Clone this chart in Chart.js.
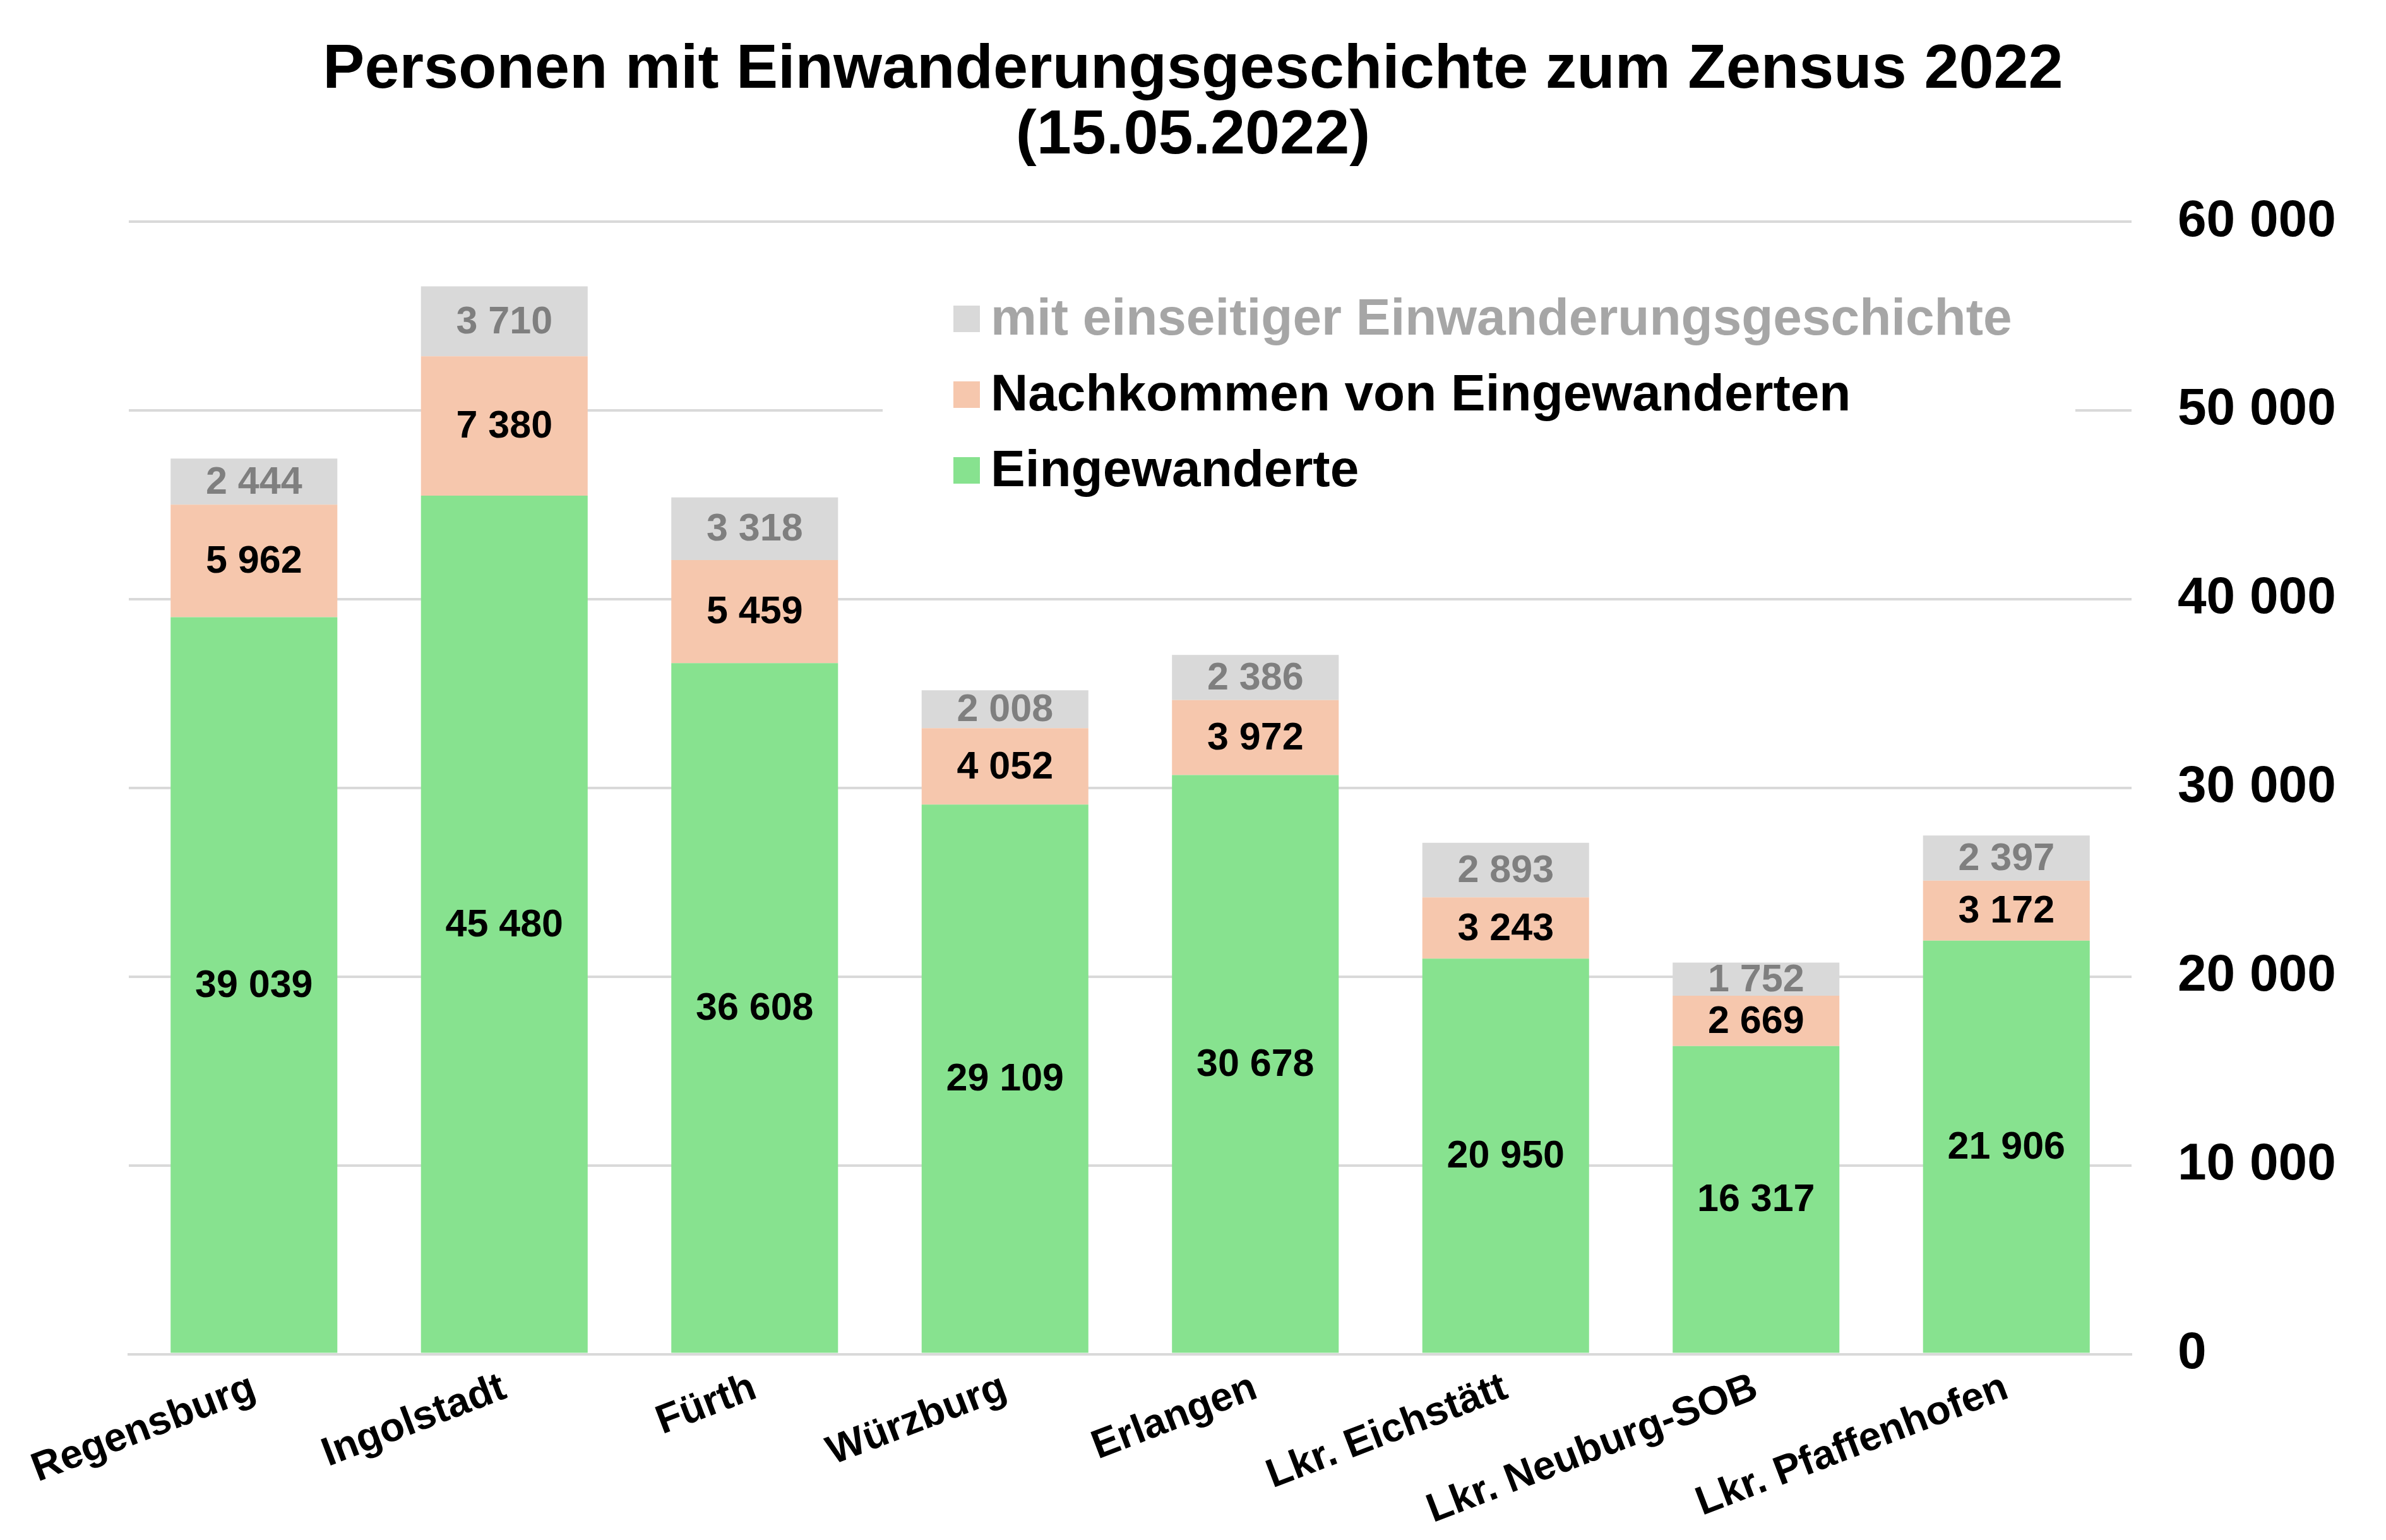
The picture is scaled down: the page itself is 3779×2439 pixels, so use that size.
<!DOCTYPE html>
<html>
<head>
<meta charset="utf-8">
<title>Personen mit Einwanderungsgeschichte zum Zensus 2022</title>
<script src="https://cdn.jsdelivr.net/npm/chart.js@4/dist/chart.umd.min.js"></script>
<style>
  html, body { margin: 0; padding: 0; background: #fff; }
  #wrap { width: 3779px; height: 2439px; position: relative; }
</style>
</head>
<body>
<div id="wrap"><canvas id="myChart"></canvas></div>
<script>
// data
const categories = ["Regensburg", "Ingolstadt", "Fürth", "Würzburg", "Erlangen", "Lkr. Eichstätt", "Lkr. Neuburg-SOB", "Lkr. Pfaffenhofen"];
const eingewanderte = [39039, 45480, 36608, 29109, 30678, 20950, 16317, 21906];
const nachkommen = [5962, 7380, 5459, 4052, 3972, 3243, 2669, 3172];
const einseitig = [2444, 3710, 3318, 2008, 2386, 2893, 1752, 2397];
const yTicks = [0, 10000, 20000, 30000, 40000, 50000, 60000];

const seriesNames = ["Eingewanderte", "Nachkommen von Eingewanderten", "mit einseitiger Einwanderungsgeschichte"];
const seriesColors = ["#87e28f", "#f6c7ad", "#d9d9d9"];
const labelColors = ["#000000", "#000000", "#7f7f7f"];
const legendTextColors = ["#000000", "#000000", "#a6a6a6"];

const FONT = "'Liberation Sans', Arial, sans-serif";

const fmt = (v) => String(v).replace(/\B(?=(\d{3})+(?!\d))/g, " ");

// value labels in the middle of each segment
const segmentLabels = {
    id: "segmentLabels",
    afterDatasetsDraw(chart) {
        const ctx = chart.ctx;
        ctx.save();
        ctx.font = "bold 61px " + FONT;
        ctx.textAlign = "center";
        ctx.textBaseline = "middle";
        chart.data.datasets.forEach((ds, i) => {
            const meta = chart.getDatasetMeta(i);
            meta.data.forEach((bar, j) => {
                ctx.fillStyle = labelColors[i];
                ctx.fillText(fmt(ds.data[j]), bar.x, (bar.y + bar.base) / 2 + 2);
            });
        });
        ctx.restore();
    }
};

// legend box inside the plot, on white, top series first
const boxLegend = {
    id: "boxLegend",
    afterDraw(chart) {
        const ctx = chart.ctx;
        ctx.save();
        ctx.fillStyle = "#ffffff";
        ctx.fillRect(1398, 440, 1889, 380);
        ctx.font = "bold 82px " + FONT;
        ctx.textAlign = "left";
        ctx.textBaseline = "middle";
        const order = [2, 1, 0];
        order.forEach((s, k) => {
            const cy = 505 + k * 120;
            ctx.fillStyle = seriesColors[s];
            ctx.fillRect(1510, cy - 21, 42, 42);
            ctx.fillStyle = legendTextColors[s];
            ctx.fillText(seriesNames[s], 1569, cy + 2);
        });
        ctx.restore();
    }
};

const ctx = document.getElementById("myChart").getContext("2d");

const config = {
    type: "bar",
    data: {
        labels: categories,
        datasets: [
            { label: seriesNames[0], data: eingewanderte, backgroundColor: seriesColors[0], xAxisID: "x", yAxisID: "y" },
            { label: seriesNames[1], data: nachkommen, backgroundColor: seriesColors[1], xAxisID: "x", yAxisID: "y" },
            { label: seriesNames[2], data: einseitig, backgroundColor: seriesColors[2], xAxisID: "x", yAxisID: "y" },
        ],
    },
    options: {
        responsive: true,
        maintainAspectRatio: false,
        devicePixelRatio: 1,
        animation: false,
        categoryPercentage: 0.666,
        barPercentage: 1,
        layout: {
            padding: { left: 79, right: 79, top: 0, bottom: 0 },
        },
        plugins: {
            legend: { display: false },
            tooltip: { enabled: false },
            title: {
                display: true,
                text: ["Personen mit Einwanderungsgeschichte zum Zensus 2022", "(15.05.2022)"],
                color: "#000000",
                font: { family: FONT, size: 99, weight: "bold", lineHeight: 1.05 },
                padding: { top: 60, bottom: 83 },
            },
        },
        scales: {
            x: {
                stacked: true,
                grid: { display: false },
                border: { display: true, color: "#d9d9d9", width: 4 },
                ticks: {
                    color: "#000000",
                    font: { family: FONT, size: 64, weight: "bold" },
                    minRotation: 21,
                    maxRotation: 21,
                    autoSkip: false,
                    padding: 8,
                },
            },
            y: {
                stacked: true,
                position: "right",
                min: 0,
                max: 60000,
                afterBuildTicks(scale) {
                    scale.ticks = yTicks.map((v) => ({ value: v }));
                },
                afterFit(scale) {
                    scale.width = 324;
                },
                grid: { color: "#d9d9d9", lineWidth: 4, drawTicks: false },
                border: { display: false },
                ticks: {
                    color: "#000000",
                    font: { family: FONT, size: 82, weight: "bold" },
                    padding: 73,
                    callback: (v) => fmt(v),
                },
            },
            // empty left margin so the plot starts where the reference does
            pad: {
                type: "linear",
                position: "left",
                grid: { display: false },
                border: { display: false },
                ticks: { display: false },
                afterFit(scale) {
                    scale.width = 125;
                },
            },
        },
    },
    plugins: [segmentLabels, boxLegend],
};

const myChart = new Chart(ctx, config);
</script>
</body>
</html>
